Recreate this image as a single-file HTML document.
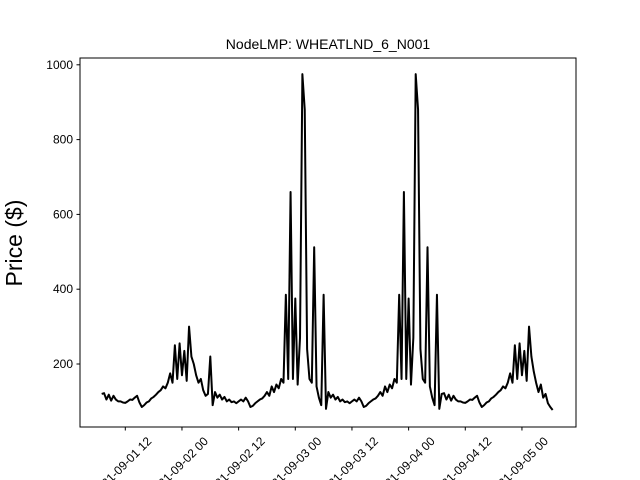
<!DOCTYPE html>
<html><head><meta charset="utf-8"><style>
html,body{margin:0;padding:0;background:#fff;}
svg{display:block;font-family:"Liberation Sans","DejaVu Sans",sans-serif;}
</style></head><body>
<svg id="chart" width="640" height="480" viewBox="0 0 640 480">
<rect width="640" height="480" fill="#fff"/>
<text x="328" y="49" font-size="14" text-anchor="middle">NodeLMP: WHEATLND_6_N001</text>
<text transform="translate(22,243) rotate(-90)" font-size="23" text-anchor="middle">Price ($)</text>
<g id="ticks"></g>
<path id="line" fill="none" stroke="#000" stroke-width="2" stroke-linejoin="round"/>
<rect x="80" y="58" width="496" height="369" fill="none" stroke="#000" stroke-width="1"/>
</svg>
<script>
const startHour = 7;
const stepHours = 0.5;
const prices = [
120,122,105,118,102,115,105,100,100,97,96,100,105,104,110,115,97,85,90,97,100,108,112,118,125,130,140,135,150,175,150,250,160,255,170,235,155,300,220,200,170,150,160,130,115,120,220,90,
125,110,118,105,112,100,105,98,100,95,100,105,100,110,100,85,88,95,100,105,108,115,125,115,140,125,145,135,160,150,385,160,660,160,375,145,270,975,880,240,160,150,512,140,110,90,385,80,
125,110,118,105,112,100,105,98,100,95,100,105,100,110,100,85,88,95,100,105,108,115,125,115,140,125,145,135,160,150,385,160,660,160,375,145,270,975,880,240,160,150,512,140,110,90,385,80,
120,122,105,118,102,115,105,100,100,97,96,100,105,104,110,115,97,85,90,97,100,108,112,118,125,130,140,135,150,175,150,250,160,255,170,235,155,300,220,180,150,125,145,110,120,95,85,77
];
const yTicks = [200,400,600,800,1000];
const xTickHours = [12,24,36,48,60,72,84,96];
const xTickLabels = ["2021-09-01 12","2021-09-02 00","2021-09-02 12","2021-09-03 00","2021-09-03 12","2021-09-04 00","2021-09-04 12","2021-09-05 00"];

function xs(h){ return 125.3 + (h-12)*4.722; }
function ys(v){ return 438.8 - v*0.374; }

const ns = "http://www.w3.org/2000/svg";
const g = document.getElementById('ticks');
yTicks.forEach(v=>{
  const y = ys(v);
  const l = document.createElementNS(ns,'line');
  l.setAttribute('x1',76.5); l.setAttribute('x2',80); l.setAttribute('y1',y); l.setAttribute('y2',y);
  l.setAttribute('stroke','#000');
  
  
  g.appendChild(l);
  const t = document.createElementNS(ns,'text');
  t.setAttribute('x',73); t.setAttribute('y',y+4); t.setAttribute('font-size','12'); t.setAttribute('text-anchor','end');
  t.textContent = v;
  
  
  g.appendChild(t);
});
xTickHours.forEach((h,i)=>{
  const x = xs(h);
  const l = document.createElementNS(ns,'line');
  l.setAttribute('x1',x); l.setAttribute('x2',x); l.setAttribute('y1',427); l.setAttribute('y2',430.5);
  l.setAttribute('stroke','#000');
  
  
  g.appendChild(l);
  const t = document.createElementNS(ns,'text');
  t.setAttribute('transform','translate('+(x+21)+',436) rotate(-45)');
  t.setAttribute('font-size','12'); t.setAttribute('text-anchor','end'); t.setAttribute('dy','0.7em');
  t.textContent = xTickLabels[i];
  
  
  g.appendChild(t);
});
let d = "";
prices.forEach((v,i)=>{
  const h = startHour + i*stepHours;
  d += (i?"L":"M") + xs(h).toFixed(2) + "," + ys(v).toFixed(2);
});
document.getElementById('line').setAttribute('d', d);
</script>
</body></html>
